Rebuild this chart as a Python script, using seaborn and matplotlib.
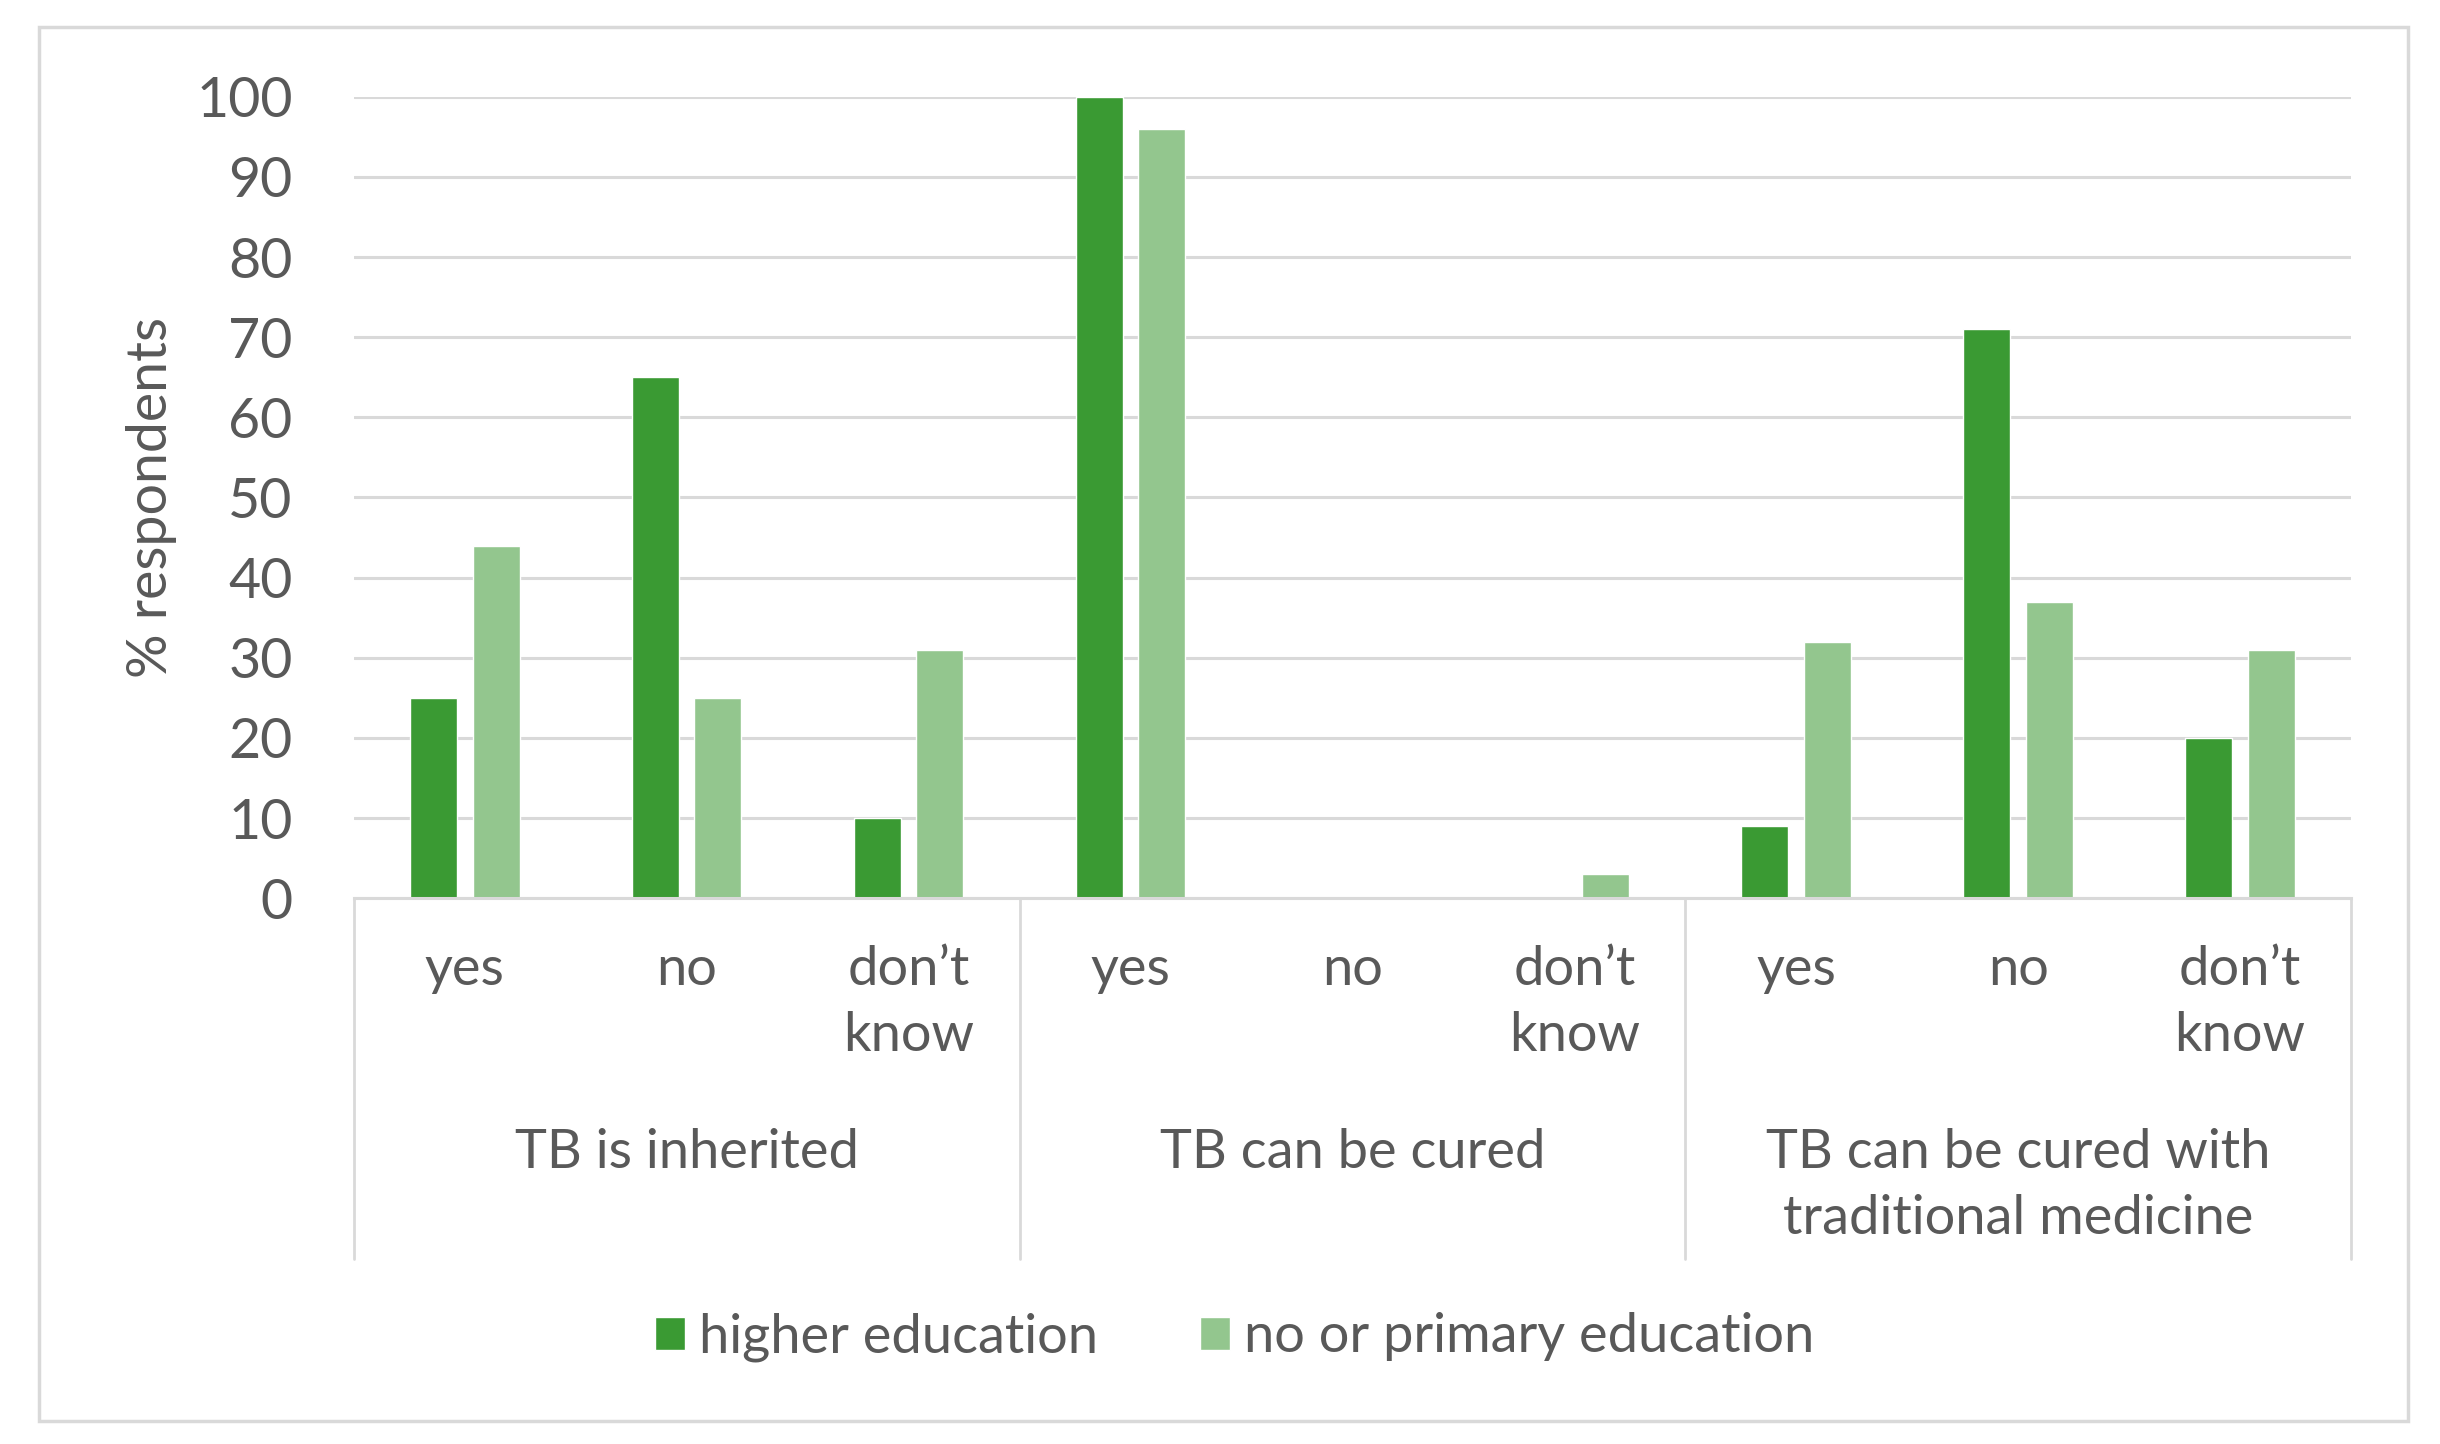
import pandas as pd
import matplotlib.pyplot as plt
import seaborn as sns
from matplotlib.patches import Rectangle, Patch

statements = ["TB is inherited", "TB can be cured", "TB can be cured with\ntraditional medicine"]
answers = ["yes", "no", "don\u2019t\nknow"]
higher_edu = [25, 65, 10, 100, 0, 0, 9, 71, 20]
primary_edu = [44, 25, 31, 96, 0, 3, 32, 37, 31]
series = ["higher education", "no or primary education"]
colors = ["#3a9a33", "#93c68e"]

sns.set_theme(style="white")
plt.rcParams['font.family'] = ['Lato', 'DejaVu Sans']
text_col = "#595959"
grid_col = "#d9d9d9"
fs = 39

# long table: one row per bar
keys = [f"{s}|{a}" for s in statements for a in answers]
df = pd.DataFrame({
    "key": keys * 2,
    "value": higher_edu + primary_edu,
    "group": [series[0]] * len(keys) + [series[1]] * len(keys),
})

fig = plt.figure(figsize=(24.4, 14.44), dpi=100)
ax = fig.add_axes([0.145, 0.378, 0.8185, 0.555])

sns.barplot(data=df, x="key", y="value", hue="group", order=keys, hue_order=series,
            palette=colors, width=0.564, gap=0.25, saturation=1, ax=ax, legend=False)

ax.set_ylim(0, 100)
ax.set_xlim(-0.5, len(keys) - 0.5)
ax.set_yticks(range(0, 101, 10))
ax.yaxis.grid(True, color=grid_col, linewidth=2.2)
ax.set_axisbelow(True)
for s in ["top", "right", "left"]:
    ax.spines[s].set_visible(False)
ax.spines["bottom"].set_color(grid_col)
ax.spines["bottom"].set_linewidth(2.2)

ax.tick_params(axis="y", length=0, pad=44, labelsize=40, labelcolor=text_col)
ax.tick_params(axis="x", length=0, pad=34, labelsize=fs, labelcolor=text_col)
ax.set_xticks(range(len(keys)))
ax.set_xticklabels([a for s in statements for a in answers], linespacing=1.42)
ax.set_xlabel("")
ax.set_ylabel("% respondents", fontsize=40, color=text_col, labelpad=14)

# category separators and group labels below the axis
trans = ax.get_xaxis_transform()
for x in [-0.5, 2.5, 5.5, 8.5]:
    ax.plot([x, x], [0, -0.45], transform=trans, color=grid_col, linewidth=2, clip_on=False)
for i, s in enumerate(statements):
    ax.text(i * 3 + 1, -0.287, s, transform=trans, ha="center", va="top",
            fontsize=fs, color=text_col, linespacing=1.42)

handles = [Patch(facecolor=c, label=l) for c, l in zip(colors, series)]
fig.legend(handles=handles, loc="center", bbox_to_anchor=(0.506, 0.074), ncol=2,
           frameon=False, fontsize=fs, labelcolor=text_col, handlelength=0.55,
           handleheight=0.55, handletextpad=0.25, columnspacing=1.9)

fig.patches.append(Rectangle((0.016, 0.016), 0.971, 0.965, transform=fig.transFigure,
                             fill=False, edgecolor=grid_col, linewidth=2.5))

fig.savefig("out.png", dpi=100, facecolor="white")
